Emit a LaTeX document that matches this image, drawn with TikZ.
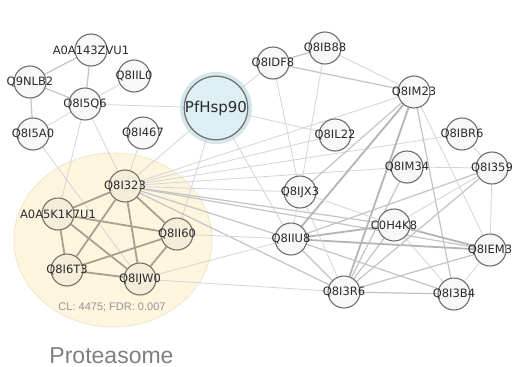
\documentclass[tikz,border=0pt]{standalone}
\usepackage{fontspec}
\setmainfont{DejaVu Sans}
\newfontfamily\captionfont{Liberation Sans}

\definecolor{nodeborder}{HTML}{6E6E6E}
\definecolor{nodefill}{HTML}{F8F8F8}
\definecolor{creamfill}{HTML}{F4EDDA}
\definecolor{creamborder}{HTML}{777163}
\definecolor{clusterbg}{HTML}{FDF5DE}
\definecolor{clusteredge}{HTML}{F1E6C8}
\definecolor{halo}{HTML}{D2E8EC}
\definecolor{hubfill}{HTML}{DDEFF2}
\definecolor{labelgray}{HTML}{2A2A2A}
\definecolor{linklight}{HTML}{D4D4D4}
\definecolor{linkmid}{HTML}{C4C4C4}
\definecolor{linkheavy}{HTML}{B4B4B4}
\definecolor{linkcore}{HTML}{A8A190}

\pgfdeclarelayer{cluster}
\pgfdeclarelayer{links}
\pgfsetlayers{cluster,links,main}

\tikzset{
  lbl/.style={inner sep=0pt, text=labelgray, font=\fontsize{11.5}{13}\selectfont},
  pnode/.style={circle, draw=nodeborder, line width=1.1pt, fill=nodefill,
    minimum size=32pt, inner sep=0pt, label={[lbl]center:#1}},
  cnode/.style={pnode=#1, fill=creamfill, draw=creamborder},
  hubnode/.style={circle, draw=nodeborder, line width=1.2pt, fill=hubfill,
    minimum size=49pt, inner sep=0pt, text=labelgray,
    font=\fontsize{15}{17}\selectfont},
  e1/.style={draw=linklight, line width=0.8pt},
  e2/.style={draw=linkmid, line width=1.2pt},
  e3/.style={draw=linkheavy, line width=1.8pt},
  ep/.style={draw=linkcore, line width=1.8pt},
}

\begin{document}
\begin{tikzpicture}[x=1pt,y=-1pt]
\useasboundingbox (0,0) rectangle (512,367);

% proteins
\node[pnode=A0A143ZVU1] (A0A143ZVU1) at (91,50) {};
\node[pnode=Q9NLB2] (Q9NLB2) at (30,82) {};
\node[pnode=Q8IIL0] (Q8IIL0) at (134,76) {};
\node[pnode=Q8I5Q6] (Q8I5Q6) at (85,104) {};
\node[pnode=Q8I5A0] (Q8I5A0) at (33,134) {};
\node[pnode=Q8I467] (Q8I467) at (143,133) {};
\node[hubnode] (PfHsp90) at (216,108) {PfHsp90};
\node[pnode=Q8IDF8] (Q8IDF8) at (273,63) {};
\node[pnode=Q8IB88] (Q8IB88) at (325,48) {};
\node[pnode=Q8IM23] (Q8IM23) at (414,92) {};
\node[pnode=Q8IL22] (Q8IL22) at (335,135) {};
\node[pnode=Q8IBR6] (Q8IBR6) at (462,134) {};
\node[pnode=Q8IM34] (Q8IM34) at (407,167) {};
\node[pnode=Q8I359] (Q8I359) at (492,168) {};
\node[pnode=Q8IJX3] (Q8IJX3) at (300,192) {};
\node[pnode=C0H4K8] (C0H4K8) at (394,225) {};
\node[pnode=Q8IIU8] (Q8IIU8) at (291,239) {};
\node[pnode=Q8IEM3] (Q8IEM3) at (490,250) {};
\node[pnode=Q8I3R6] (Q8I3R6) at (344,292) {};
\node[pnode=Q8I3B4] (Q8I3B4) at (454,294) {};
% proteasome members
\node[cnode=Q8I323] (Q8I323) at (125,186) {};
\node[cnode=A0A5K1K7U1] (A0A5K1K7U1) at (58,214) {};
\node[cnode=Q8II60] (Q8II60) at (177,234) {};
\node[cnode=Q8I6T3] (Q8I6T3) at (67,270) {};
\node[cnode=Q8IJW0] (Q8IJW0) at (140,279) {};

\node[anchor=base, inner sep=0pt, text=black!42,
  font=\captionfont\fontsize{11}{13}\selectfont] (clinfo) at (112,310)
  {CL: 4475; FDR: 0.007};
\node[anchor=base, inner sep=0pt, text=black!50,
  font=\captionfont\fontsize{23}{26}\selectfont] (title) at (111.5,363)
  {Proteasome};

\begin{pgfonlayer}{cluster}
  \fill[white] (0,0) rectangle (512,367);
  \filldraw[fill=clusterbg, draw=clusteredge, line width=0.8pt]
    (113,240) ellipse [x radius=99, y radius=87];
  \fill[halo] (PfHsp90) circle [radius=36];
\end{pgfonlayer}

\begin{pgfonlayer}{links}
  % left group
  \draw[e2] (A0A143ZVU1) -- (Q9NLB2);
  \draw[e2] (A0A143ZVU1) -- (Q8I5Q6);
  \draw[e2] (Q9NLB2) -- (Q8I5Q6);
  \draw[e2] (Q9NLB2) -- (Q8I5A0);
  \draw[e1] (Q8IIL0) -- (Q8I5Q6);
  \draw[e1] (Q8I5Q6) -- (Q8I5A0);
  \draw[e1] (Q8I5Q6) -- (PfHsp90);
  \draw[e1] (Q8I5Q6) -- (A0A5K1K7U1);
  \draw[e1] (Q8I5Q6) -- (Q8I323);
  \draw[e1] (Q8I5A0) -- (Q8IJW0);
  \draw[e1] (Q8I467) -- (Q8I323);
  % PfHsp90
  \draw[e1] (PfHsp90) -- (Q8I323);
  \draw[e1] (PfHsp90) -- (Q8II60);
  \draw[e1] (PfHsp90) -- (Q8IIU8);
  \draw[e1] (PfHsp90) -- (Q8IDF8);
  \draw[e1] (PfHsp90) -- (Q8IL22);
  % proteasome core
  \draw[ep] (Q8I323) -- (A0A5K1K7U1);
  \draw[ep] (Q8I323) -- (Q8II60);
  \draw[ep] (Q8I323) -- (Q8IJW0);
  \draw[ep] (Q8I323) -- (Q8I6T3);
  \draw[ep] (A0A5K1K7U1) -- (Q8II60);
  \draw[ep] (A0A5K1K7U1) -- (Q8I6T3);
  \draw[ep] (A0A5K1K7U1) -- (Q8IJW0);
  \draw[ep] (Q8II60) -- (Q8I6T3);
  \draw[ep] (Q8II60) -- (Q8IJW0);
  \draw[ep] (Q8I6T3) -- (Q8IJW0);
  % proteasome to the right
  \draw[e1] (Q8I323) -- (Q8IM23);
  \draw[e1] (Q8I323) -- (Q8IL22);
  \draw[e1] (Q8I323) -- (Q8IBR6);
  \draw[e1] (Q8I323) -- (Q8IM34);
  \draw[e1] (Q8I323) -- (Q8IJX3);
  \draw[e2] (Q8I323) -- (C0H4K8);
  \draw[e2] (Q8I323) -- (Q8IEM3);
  \draw[e2] (Q8I323) -- (Q8IIU8);
  \draw[e2] (Q8I323) -- (Q8I3R6);
  \draw[e1] (Q8II60) -- (Q8IIU8);
  \draw[e1] (Q8IJW0) -- (Q8IIU8);
  \draw[e1] (Q8IJW0) -- (Q8I3R6);
  % right group
  \draw[e2] (Q8IDF8) -- (Q8IB88);
  \draw[e2] (Q8IDF8) -- (Q8IM23);
  \draw[e1] (Q8IDF8) -- (Q8IJX3);
  \draw[e1] (Q8IB88) -- (Q8IJX3);
  \draw[e1] (Q8IB88) -- (Q8IM23);
  \draw[e2] (Q8IM23) -- (Q8IJX3);
  \draw[e3] (Q8IM23) -- (Q8IIU8);
  \draw[e3] (Q8IM23) -- (Q8I3R6);
  \draw[e2] (Q8IM23) -- (Q8I3B4);
  \draw[e1] (Q8IM23) -- (Q8IEM3);
  \draw[e1] (C0H4K8) -- (Q8IJX3);
  \draw[e3] (C0H4K8) -- (Q8IIU8);
  \draw[e3] (C0H4K8) -- (Q8IEM3);
  \draw[e2] (C0H4K8) -- (Q8I3R6);
  \draw[e1] (C0H4K8) -- (Q8I3B4);
  \draw[e1] (C0H4K8) -- (Q8I359);
  \draw[e1] (Q8IIU8) -- (Q8IJX3);
  \draw[e2] (Q8IIU8) -- (Q8I359);
  \draw[e3] (Q8IIU8) -- (Q8IEM3);
  \draw[e2] (Q8IIU8) -- (Q8I3R6);
  \draw[e2] (Q8IIU8) -- (Q8I3B4);
  \draw[e1] (Q8I3R6) -- (Q8IJX3);
  \draw[e2] (Q8I3R6) -- (Q8IM34);
  \draw[e2] (Q8I3R6) -- (Q8I359);
  \draw[e2] (Q8I3R6) -- (Q8IEM3);
  \draw[e2] (Q8I3R6) -- (Q8I3B4);
  \draw[e1] (Q8IEM3) -- (Q8I359);
  \draw[e1] (Q8IEM3) -- (Q8I3B4);
  \draw[e1] (Q8I359) -- (Q8IBR6);
  \draw[e1] (Q8I359) -- (Q8IM34);
\end{pgfonlayer}
\end{tikzpicture}
\end{document}
